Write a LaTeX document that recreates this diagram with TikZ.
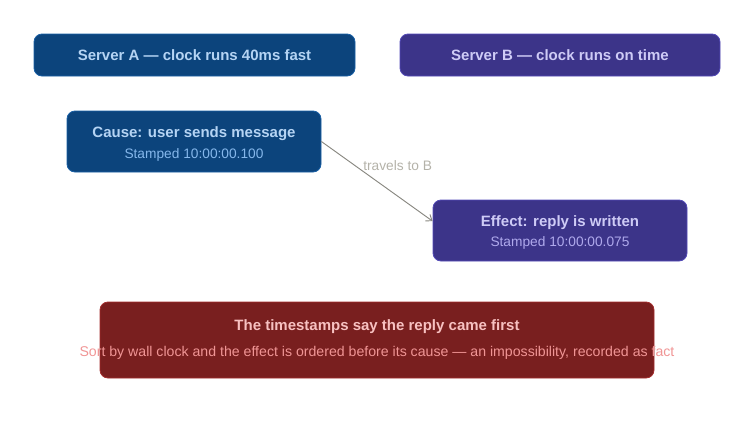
\documentclass[tikz,border=0pt]{standalone}
\usepackage{fontspec}
\setmainfont{Liberation Sans}
\usetikzlibrary{positioning,arrows.meta}

\definecolor{blueFill}{HTML}{0C447C}
\definecolor{blueLine}{HTML}{185FA5}
\definecolor{blueText}{HTML}{B5D4F4}
\definecolor{blueSub}{HTML}{85B7EB}
\definecolor{purpFill}{HTML}{3C3489}
\definecolor{purpLine}{HTML}{534AB7}
\definecolor{purpText}{HTML}{CECBF6}
\definecolor{purpSub}{HTML}{AFA9EC}
\definecolor{redFill}{HTML}{791F1F}
\definecolor{redLine}{HTML}{A32D2D}
\definecolor{redText}{HTML}{F7C1C1}
\definecolor{redSub}{HTML}{F09595}
\definecolor{wire}{HTML}{888780}
\definecolor{wireText}{HTML}{B4B2A9}

\begin{document}
\begin{tikzpicture}
      [x=0.75pt, y=-0.75pt,
      box/.style={rounded corners=6pt, line width=0.6pt, inner sep=0pt,
        font=\fontsize{11.25}{13}\selectfont\bfseries},
      srvA/.style={box, draw=blueLine, fill=blueFill, text=blueText,
        minimum width=240.75pt, minimum height=31.5pt},
      srvB/.style={box, draw=purpLine, fill=purpFill, text=purpText,
        minimum width=240pt, minimum height=31.5pt},
      event/.style={minimum width=190.5pt, minimum height=45.75pt},
      title/.style={font=\fontsize{11.25}{13}\selectfont\bfseries},
      sub/.style={font=\fontsize{10.3}{12}\selectfont\mdseries},
      ]
      \useasboundingbox (0,0) rectangle (754,422);

      \node[srvA] (ServerA) at (194.5,55) {Server A — clock runs 40ms fast};
      \node[srvB] (ServerB) at (560,55) {Server B — clock runs on time};

      \node[srvA, event] (Cause) at (194,141.5) {};
      \node[title, text=blueText] (CauseT) at (194,133.5) {Cause: user sends message};
      \node[sub, text=blueSub] (CauseS) at (194,154.5) {Stamped 10:00:00.100};

      \node[srvB, event] (Effect) at (560,230.5) {};
      \node[title, text=purpText] (EffectT) at (560,222.5) {Effect: reply is written};
      \node[sub, text=purpSub] (EffectS) at (560,243) {Stamped 10:00:00.075};

      \node[box, draw=redLine, fill=redFill, minimum width=415.5pt,
        minimum height=57pt] (Verdict) at (377,340) {};
      \node[title, text=redText] (VerdictT) at (377,326.5) {The timestamps say the reply came first};
      \node[sub, text=redSub, font=\fontsize{10.6}{12}\selectfont] (VerdictS) at (377,352.5)
        {Sort by wall clock and the effect is ordered before its cause — an impossibility, recorded as fact};

      \draw[-{Straight Barb[length=4pt,width=6pt]}, wire, line width=0.7pt]
        (Cause.east) -- ([yshift=7pt]Effect.west)
        node[midway, xshift=15.5pt, yshift=11.5pt, sub, text=wireText] (Travel) {travels to B};
    \end{tikzpicture}
\end{document}
